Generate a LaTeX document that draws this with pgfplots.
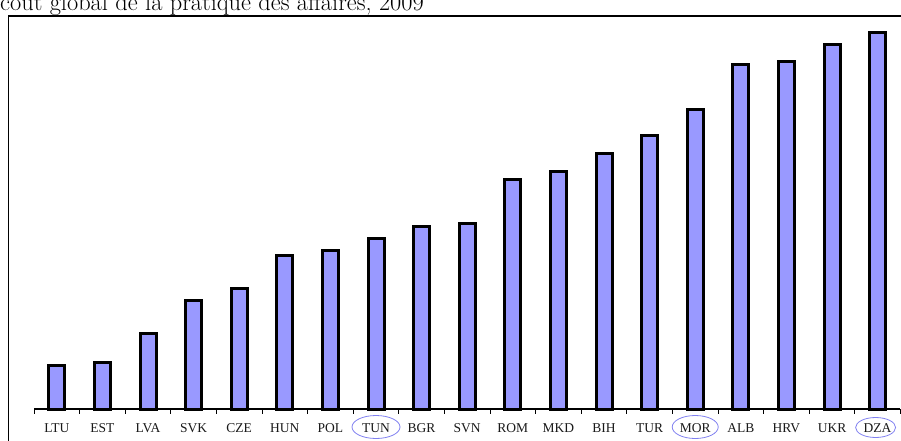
\documentclass[border=0pt]{standalone}
\usepackage{fontspec}
\usepackage{pgfplots}
\pgfplotsset{compat=1.18}
\newfontfamily\tnr{Liberation Serif}
\definecolor{barblue}{HTML}{9999FF}
\definecolor{ringblue}{HTML}{8080F0}

\begin{document}
\begin{tikzpicture}
% title, partly cut off at the top as in the source
\node[anchor=base west, inner sep=0pt] at (0pt,429.5pt)
  {\fontsize{24.4}{28}\selectfont co\^ut global de la pratique des affaires, 2009};
% outer frame (runs past the right and bottom edges)
\draw[line width=1.4pt] (8.5pt,-20pt) -- (8.5pt,424pt) -- (930pt,424pt);

\begin{axis}[
  at={(34pt,31pt)}, anchor=south west,
  scale only axis, width=866.4pt, height=400pt,
  xmin=-0.5, xmax=18.5, ymin=0, ymax=400,
  axis x line=bottom, axis y line=none,
  axis line style={-, line width=1.3pt},
  xtick={0,...,18},
  xticklabels={LTU,EST,LVA,SVK,CZE,HUN,POL,TUN,BGR,SVN,ROM,MKD,BIH,TUR,MOR,ALB,HRV,UKR,DZA},
  major tick length=0pt,
  minor xtick={-0.5,0.5,...,18.5},
  minor tick length=4.5pt,
  tick align=outside,
  minor tick style={line width=0.9pt, black},
  xticklabel style={font=\tnr\fontsize{13.5}{15}\selectfont, text=black!90, anchor=center, yshift=-19pt},
  ybar, bar width=16pt,
  clip=false,
]
\addplot[fill=barblue, draw=black, line width=3pt] coordinates {
  (0,43.5) (1,46.8) (2,75.8) (3,108.5) (4,120.2) (5,153.2) (6,158.2)
  (7,170.8) (8,182.2) (9,185.2) (10,229.5) (11,237.5) (12,255.5)
  (13,273.2) (14,299.2) (15,344.2) (16,347.2) (17,364.8) (18,376.2)
};
\draw[ringblue, line width=0.8pt] (axis cs:7,0) ++(0pt,-18pt) ellipse [x radius=24pt, y radius=11.5pt];
\draw[ringblue, line width=0.8pt] (axis cs:14,0) ++(0pt,-18pt) ellipse [x radius=23pt, y radius=11.5pt];
\draw[ringblue, line width=0.8pt] (axis cs:18,0) ++(-2pt,-18.5pt) ellipse [x radius=20pt, y radius=10pt];
\end{axis}
\pgfresetboundingbox
\useasboundingbox (0pt,0pt) rectangle (901pt,440pt);
\end{tikzpicture}
\end{document}
